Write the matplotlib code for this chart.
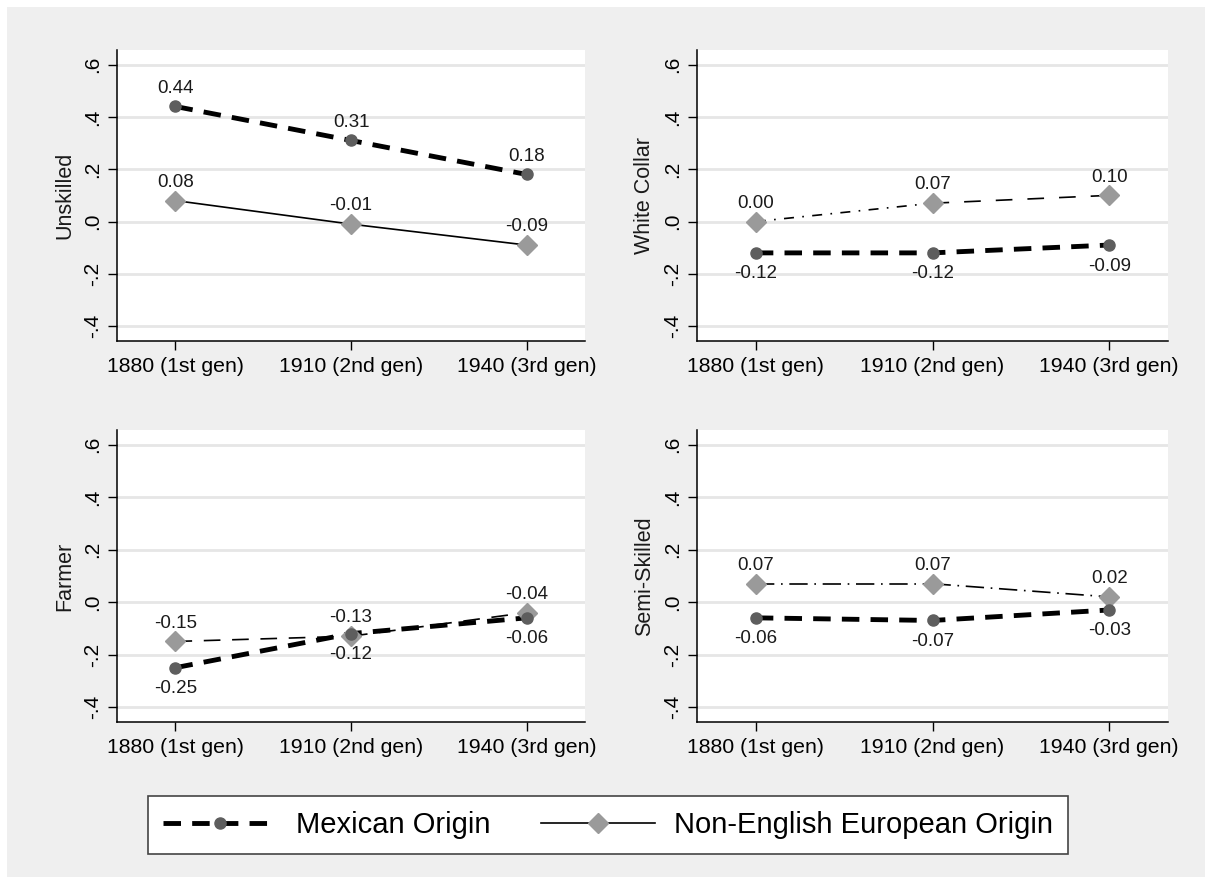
import matplotlib
matplotlib.use('Agg')
import matplotlib.pyplot as plt
from matplotlib.lines import Line2D
from matplotlib.patches import Rectangle

plt.rcParams['font.family'] = ['Liberation Sans', 'DejaVu Sans']

gens = ['1880 (1st gen)', '1910 (2nd gen)', '1940 (3rd gen)']
occupations = ['Unskilled', 'White Collar', 'Farmer', 'Semi-Skilled']

mexican = [
    [0.44, 0.31, 0.18],
    [-0.12, -0.12, -0.09],
    [-0.25, -0.12, -0.06],
    [-0.06, -0.07, -0.03],
]
non_english = [
    [0.08, -0.01, -0.09],
    [0.00, 0.07, 0.10],
    [-0.15, -0.13, -0.04],
    [0.07, 0.07, 0.02],
]
# where the Mexican-origin value labels go (above / below the point)
mex_label_above = [True, False, False, False]

yticks = [-0.4, -0.2, 0.0, 0.2, 0.4, 0.6]
ytick_labels = ['-.4', '-.2', '.0', '.2', '.4', '.6']

W, H = 1205, 877
# panel boxes in pixels: left, top, right, bottom
boxes = [
    (117, 50, 585, 341),
    (697, 50, 1168, 341),
    (117, 430, 585, 722),
    (697, 430, 1168, 722),
]

bg = '#efefef'
mex_dash = (0, (3.6, 2.3))
dashdot_short = (0, (6, 5, 1, 5))
dashdot_long = (0, (11, 4, 1, 4))
longdash = (0, (10, 9))
longdash2 = (0, (10, 7))
# line pattern of the second series, one per panel (per segment)
ne_styles = [
    ['-', '-'],
    [dashdot_short, longdash],
    [longdash2, longdash2],
    [dashdot_long, dashdot_long],
]

fig = plt.figure(figsize=(W / 100, H / 100), dpi=100, facecolor=bg)
# thin white strip along the top and left edges
fig.patches.append(Rectangle((0, 1 - 7 / H), 1, 7 / H, transform=fig.transFigure,
                             facecolor='white', edgecolor='none', zorder=-10))
fig.patches.append(Rectangle((0, 0), 7 / W, 1, transform=fig.transFigure,
                             facecolor='white', edgecolor='none', zorder=-10))

x = list(range(len(gens)))
lab_kw = dict(textcoords='offset points', ha='center', fontsize=13.5, color='#1a1a1a')

for i, occ in enumerate(occupations):
    l, t, r, b = boxes[i]
    ax = fig.add_axes([l / W, 1 - b / H, (r - l) / W, (b - t) / H])
    ax.set_facecolor('white')
    ax.set_xlim(-0.333, 2.333)
    ax.set_ylim(-0.457, 0.656)
    for y in yticks:
        ax.axhline(y, color='#e6e6e6', lw=2.0, zorder=0)

    mex = mexican[i]
    ne = non_english[i]

    # non-English European origin, drawn segment by segment
    for s in range(len(x) - 1):
        ax.plot(x[s:s + 2], ne[s:s + 2], color='black', lw=1.2,
                linestyle=ne_styles[i][s], zorder=2)
    ax.plot(x, ne, linestyle='none', marker='D', markersize=10,
            color='#9a9a9a', zorder=4)

    # Mexican origin
    ax.plot(x, mex, color='black', lw=3.5, linestyle=mex_dash, zorder=3)
    ax.plot(x, mex, linestyle='none', marker='o', markersize=8,
            color='#5e5e5e', zorder=4)

    for xi, v in zip(x, ne):
        ax.annotate('%.2f' % v, (xi, v), xytext=(0, 7), va='bottom', **lab_kw)
    for xi, v in zip(x, mex):
        if mex_label_above[i]:
            ax.annotate('%.2f' % v, (xi, v), xytext=(0, 7), va='bottom', **lab_kw)
        else:
            ax.annotate('%.2f' % v, (xi, v), xytext=(0, -9), va='top', **lab_kw)

    ax.set_xticks(x)
    ax.set_xticklabels(gens, fontsize=15.3)
    ax.set_yticks(yticks)
    ax.set_yticklabels(ytick_labels, fontsize=15, rotation=90, va='center')
    ax.set_ylabel(occ, fontsize=15.5, labelpad=6, color='#1a1a1a')
    ax.tick_params(axis='both', length=6.5, width=1.0, color='black')
    ax.tick_params(axis='y', pad=4)
    ax.tick_params(axis='x', pad=5)
    for side in ['top', 'right']:
        ax.spines[side].set_visible(False)
    for side in ['left', 'bottom']:
        ax.spines[side].set_linewidth(1.1)

handles = [
    Line2D([], [], color='black', lw=3.5, linestyle=mex_dash, marker='o',
           markersize=8, markerfacecolor='#5e5e5e', markeredgecolor='#5e5e5e'),
    Line2D([], [], color='black', lw=1.2, linestyle='-', marker='D',
           markersize=10, markerfacecolor='#9a9a9a', markeredgecolor='#9a9a9a'),
]
leg = fig.legend(handles, ['Mexican Origin', 'Non-English European Origin'],
                 loc='center', bbox_to_anchor=(608 / W, 1 - 825 / H), ncol=2,
                 fontsize=21, handlelength=3.9, handletextpad=0.65,
                 columnspacing=1.75, borderpad=0.5, fancybox=False,
                 framealpha=1, edgecolor='#444444')
leg.get_frame().set_linewidth(1.2)

fig.savefig('out.png', dpi=100, facecolor=fig.get_facecolor())
